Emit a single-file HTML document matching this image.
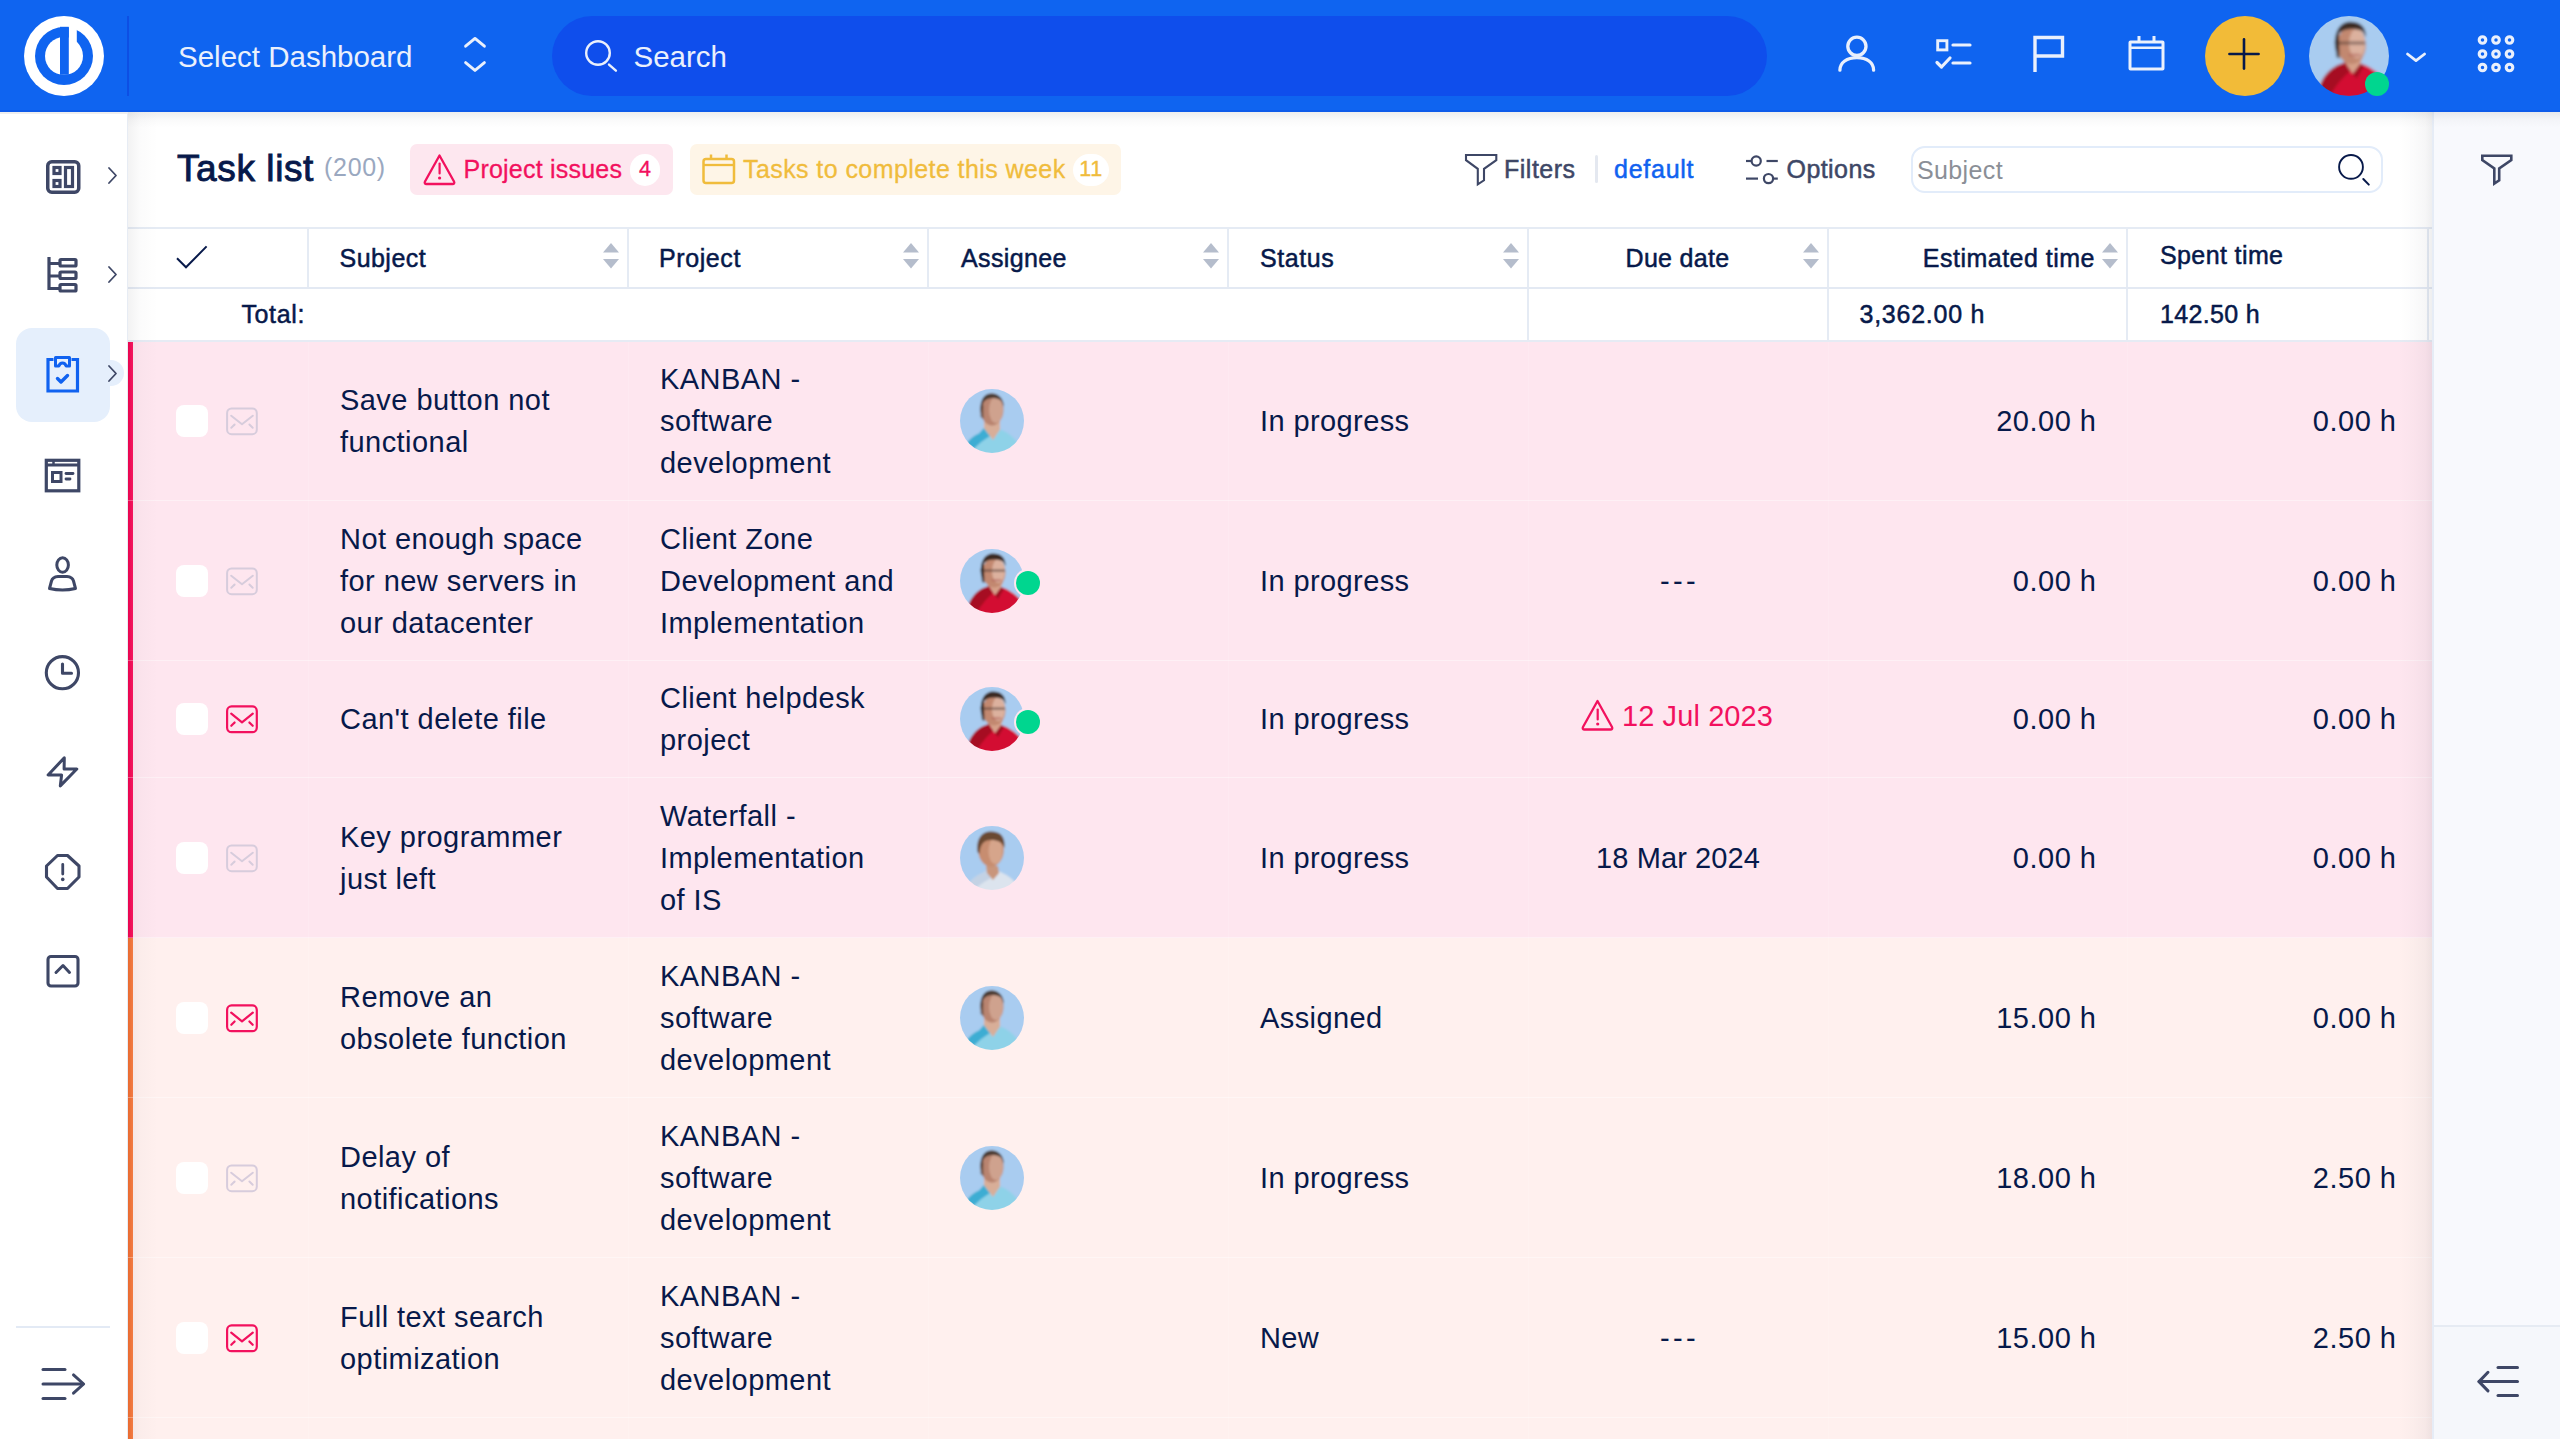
<!DOCTYPE html>
<html><head><meta charset="utf-8"><title>Task list</title>
<style>
*{margin:0;padding:0;box-sizing:border-box}
html,body{width:2560px;height:1439px;overflow:hidden;background:#fff}
body{position:relative;font-family:"Liberation Sans",sans-serif;color:#07194A}
.a{position:absolute;display:block}
.t{position:absolute;white-space:nowrap}
</style></head><body>
<div class="a" style="left:0px;top:112px;width:127px;height:1327px;background:#FFFFFF;"></div>
<div class="a" style="left:127px;top:112px;width:1px;height:1327px;background:#E7ECF4;"></div>
<div class="a" style="left:128px;top:112px;width:2304px;height:1327px;background:#FFFFFF;"></div>
<div class="a" style="left:2432px;top:112px;width:128px;height:1327px;background:#F8F9FD;"></div>
<div class="a" style="left:2432px;top:112px;width:1px;height:1327px;background:#E4E9F2;"></div>
<div class="a" style="left:0px;top:0px;width:2560px;height:112px;background:#0F64F0;"></div>
<div class="a" style="left:0px;top:110px;width:2560px;height:2px;background:#0E5BEA;"></div>
<svg class="a" style="left:24px;top:16px;" width="80" height="80" viewBox="0 0 80 80"><circle cx="40" cy="40" r="40" fill="#fff"/><circle cx="40" cy="40" r="29" fill="#0F64F0"/><circle cx="40" cy="40" r="19" fill="#fff"/><rect x="44.8" y="6" width="8" height="20" fill="#fff"/><rect x="36" y="10.8" width="8.8" height="48" fill="#0F64F0"/></svg>
<div class="a" style="left:127px;top:16px;width:1.5px;height:80px;background:#0D4FE4;"></div>
<div class="t" style="left:178px;top:42.03px;font-size:29.5px;line-height:29.5px;color:#EAF0FC;font-weight:400;">Select Dashboard</div>
<svg class="a" style="left:460px;top:33px;" width="30" height="44" viewBox="0 0 30 44"><polyline points="5.6,13.2 15,5.4 24.4,13.2" fill="none" stroke="#EAF0FC" stroke-width="2.9" stroke-linecap="round" stroke-linejoin="round"/><polyline points="5.6,29.6 15,37.4 24.4,29.6" fill="none" stroke="#EAF0FC" stroke-width="2.9" stroke-linecap="round" stroke-linejoin="round"/></svg>
<div class="a" style="left:552px;top:16px;width:1215px;height:80px;background:#0F4EEC;border-radius:40px;"></div>
<svg class="a" style="left:580px;top:36px;" width="42" height="42" viewBox="0 0 42 42"><circle cx="18" cy="17" r="11.8" fill="none" stroke="#EAF0FC" stroke-width="2.4"/><line x1="29" y1="28.6" x2="35.9" y2="34.7" stroke="#EAF0FC" stroke-width="2.4" stroke-linecap="round"/></svg>
<div class="t" style="left:633.5px;top:41.53px;font-size:29.5px;line-height:29.5px;color:#EAF0FC;font-weight:400;">Search</div>
<svg class="a" style="left:1830px;top:30px;" width="54" height="50" viewBox="0 0 54 50"><circle cx="26.9" cy="16.3" r="9.1" fill="none" stroke="#EAF0FC" stroke-width="3.3"/><path d="M9.9 40.2 C9.9 32.5 17 27.6 26.9 27.6 C36.8 27.6 43.6 32.5 43.6 40.2" fill="none" stroke="#EAF0FC" stroke-width="3.3" stroke-linecap="round"/></svg>
<svg class="a" style="left:1926px;top:30px;" width="54" height="50" viewBox="0 0 54 50"><rect x="11.7" y="10.7" width="9.2" height="9.2" fill="none" stroke="#EAF0FC" stroke-width="2.9"/><line x1="27" y1="15" x2="44" y2="15" stroke="#EAF0FC" stroke-width="3.2" stroke-linecap="round"/><line x1="27" y1="33" x2="44" y2="33" stroke="#EAF0FC" stroke-width="3.2" stroke-linecap="round"/><polyline points="11,32.5 15.5,37 24,28" fill="none" stroke="#EAF0FC" stroke-width="3.2" stroke-linecap="round" stroke-linejoin="round"/></svg>
<svg class="a" style="left:2020px;top:30px;" width="54" height="50" viewBox="0 0 54 50"><polyline points="15,42 15,7.5 42.5,7.5 42.5,26 15,26" fill="none" stroke="#EAF0FC" stroke-width="3.4" stroke-linejoin="miter"/></svg>
<svg class="a" style="left:2120px;top:30px;" width="54" height="50" viewBox="0 0 54 50"><rect x="10" y="12" width="33" height="27" rx="0.5" fill="none" stroke="#EAF0FC" stroke-width="3"/><line x1="10" y1="17.8" x2="43" y2="17.8" stroke="#EAF0FC" stroke-width="2.6"/><line x1="19" y1="6" x2="19" y2="12" stroke="#EAF0FC" stroke-width="3"/><line x1="34" y1="6" x2="34" y2="12" stroke="#EAF0FC" stroke-width="3"/></svg>
<svg class="a" style="left:2205px;top:16px;" width="80" height="80" viewBox="0 0 80 80"><circle cx="40" cy="40" r="40" fill="#F2BB38"/><line x1="24.4" y1="38" x2="53.6" y2="38" stroke="#07194A" stroke-width="2.6" stroke-linecap="round"/><line x1="39" y1="23.4" x2="39" y2="52.6" stroke="#07194A" stroke-width="2.6" stroke-linecap="round"/></svg>
<svg class="a" style="left:2309px;top:16px;" width="80" height="80" viewBox="0 0 64 64"><defs><filter id="blred" x="-20%" y="-20%" width="140%" height="140%"><feGaussianBlur stdDeviation="1.1"/></filter><clipPath id="cpred"><circle cx="32" cy="32" r="32"/></clipPath></defs><g clip-path="url(#cpred)"><g filter="url(#blred)"><rect x="-8" y="-8" width="80" height="80" fill="#A9CCF0"/><path d="M6 66 L9 55 C12 47 18 41 25 38.5 L29 37 L35 46 L41 38 C48 40 55 45 62 52 L66 66 Z" fill="#D30C30"/><path d="M6 66 L9 55 C12 47 18 41 25 38.5 L29 37 L33 44 C26 50 20 57 16 66 Z" fill="#9E0B22" opacity="0.85"/><path d="M35 46 L41 38 L44 40 L38 50 Z" fill="#8A0A1E" opacity="0.7"/><path d="M27 33 L43 33 L41 38 L35 46 L29 37 Z" fill="#D6A088"/><ellipse cx="34" cy="23.5" rx="11.5" ry="15" fill="#C28870"/><ellipse cx="38.5" cy="22" rx="6.5" ry="12" fill="#EDCDBD" opacity="0.6"/><path d="M21 26 C19.5 12 25 4.5 33 4.5 C41 4.5 46 9 45.5 17 L43.5 13 C40 9.5 28 9.5 24 14 L23.5 30 Z" fill="#3A2A24"/><path d="M20.5 20 L24 18 L24.5 34 L22 33 Z" fill="#3A2A24" opacity="0.8"/><rect x="24" y="20.3" width="21" height="2.6" fill="#4A3530" opacity="0.5"/><ellipse cx="36.5" cy="31.2" rx="5.5" ry="1.3" fill="#B0605A" opacity="0.55"/></g></g></svg>
<div class="a" style="left:2365px;top:72px;width:24px;height:24px;background:#00D68F;border-radius:50%;"></div>
<svg class="a" style="left:2400px;top:46px;" width="32" height="22" viewBox="0 0 32 22"><polyline points="7.5,8 16,14.6 24.6,8" fill="none" stroke="#EAF0FC" stroke-width="2.8" stroke-linecap="round" stroke-linejoin="round"/></svg>
<svg class="a" style="left:2470px;top:28px;" width="52" height="52" viewBox="0 0 52 52"><circle cx="12.5" cy="12.0" r="3.3" fill="none" stroke="#EAF0FC" stroke-width="3.1"/><circle cx="26.0" cy="12.0" r="3.3" fill="none" stroke="#EAF0FC" stroke-width="3.1"/><circle cx="39.5" cy="12.0" r="3.3" fill="none" stroke="#EAF0FC" stroke-width="3.1"/><circle cx="12.5" cy="26.0" r="3.3" fill="none" stroke="#EAF0FC" stroke-width="3.1"/><circle cx="26.0" cy="26.0" r="3.3" fill="none" stroke="#EAF0FC" stroke-width="3.1"/><circle cx="39.5" cy="26.0" r="3.3" fill="none" stroke="#EAF0FC" stroke-width="3.1"/><circle cx="12.5" cy="39.5" r="3.3" fill="none" stroke="#EAF0FC" stroke-width="3.1"/><circle cx="26.0" cy="39.5" r="3.3" fill="none" stroke="#EAF0FC" stroke-width="3.1"/><circle cx="39.5" cy="39.5" r="3.3" fill="none" stroke="#EAF0FC" stroke-width="3.1"/></svg>
<svg class="a" style="left:30px;top:144px;" width="64" height="64" viewBox="0 0 64 64"><rect x="17.75" y="17.75" width="31" height="30.5" rx="4" fill="none" stroke="#3E4766" stroke-width="3.5"/><rect x="24" y="23.5" width="6" height="6" fill="none" stroke="#3E4766" stroke-width="3.2"/><rect x="24" y="36.5" width="6" height="6" fill="none" stroke="#3E4766" stroke-width="3.2"/><rect x="35.5" y="23.5" width="7" height="19" fill="none" stroke="#3E4766" stroke-width="3.2"/></svg>
<svg class="a" style="left:100px;top:160px;" width="24" height="32" viewBox="0 0 24 32"><polyline points="9,8 16,15.5 9,23" fill="none" stroke="#3E4766" stroke-width="1.8" stroke-linecap="round" stroke-linejoin="round"/></svg>
<svg class="a" style="left:30px;top:243px;" width="64" height="64" viewBox="0 0 64 64"><polyline points="19,14 19,45.5 29.5,45.5" fill="none" stroke="#3E4766" stroke-width="3.2"/><line x1="19" y1="20.5" x2="29.5" y2="20.5" stroke="#3E4766" stroke-width="3"/><line x1="19" y1="33" x2="29.5" y2="33" stroke="#3E4766" stroke-width="3"/><rect x="30" y="16.5" width="16" height="6.5" rx="1" fill="none" stroke="#3E4766" stroke-width="3.2"/><rect x="30" y="29" width="16" height="6.5" rx="1" fill="none" stroke="#3E4766" stroke-width="3.2"/><rect x="30" y="41.5" width="16" height="6.5" rx="1" fill="none" stroke="#3E4766" stroke-width="3.2"/></svg>
<svg class="a" style="left:100px;top:259px;" width="24" height="32" viewBox="0 0 24 32"><polyline points="9,8 16,15.5 9,23" fill="none" stroke="#3E4766" stroke-width="1.8" stroke-linecap="round" stroke-linejoin="round"/></svg>
<div class="a" style="left:16px;top:328px;width:94px;height:94px;background:#E5EFFC;border-radius:16px;"></div>
<div class="a" style="left:98px;top:360px;width:26px;height:26px;background:#E5EFFC;border-radius:50%;"></div>
<svg class="a" style="left:30px;top:342px;" width="64" height="64" viewBox="0 0 64 64"><polyline points="23.5,17.5 18,17.5 18,49 47.5,49 47.5,17.5 41.5,17.5" fill="none" stroke="#1062F0" stroke-width="3.2"/><path d="M25.5 15.5 L39.5 15.5 L39.5 24 L36 24 C35 20 30 20 29 24 L25.5 24 Z" fill="none" stroke="#1062F0" stroke-width="3" stroke-linejoin="round"/><polyline points="27.5,36.5 31,40 37.5,33.5" fill="none" stroke="#1062F0" stroke-width="3.4" stroke-linecap="round" stroke-linejoin="round"/></svg>
<svg class="a" style="left:100px;top:358px;" width="24" height="32" viewBox="0 0 24 32"><polyline points="9,8 16,15.5 9,23" fill="none" stroke="#3E4766" stroke-width="1.8" stroke-linecap="round" stroke-linejoin="round"/></svg>
<svg class="a" style="left:30px;top:443px;" width="64" height="64" viewBox="0 0 64 64"><rect x="16.3" y="17.3" width="32.5" height="30.5" fill="none" stroke="#3E4766" stroke-width="3.2"/><line x1="16.3" y1="22" x2="48.8" y2="22" stroke="#3E4766" stroke-width="2.8"/><line x1="23.5" y1="17" x2="23.5" y2="22" stroke="#3E4766" stroke-width="2.5"/><rect x="22.5" y="29.5" width="8.5" height="9" fill="none" stroke="#3E4766" stroke-width="3"/><line x1="36" y1="30.5" x2="43" y2="30.5" stroke="#3E4766" stroke-width="2.8" stroke-linecap="round"/><line x1="36" y1="36" x2="40" y2="36" stroke="#3E4766" stroke-width="2.8" stroke-linecap="round"/></svg>
<svg class="a" style="left:30px;top:542px;" width="64" height="64" viewBox="0 0 64 64"><ellipse cx="32.6" cy="23" rx="5.8" ry="7.3" fill="none" stroke="#3E4766" stroke-width="3"/><path d="M19.5 46.5 L21.5 39 C22.5 35.5 24.5 34.8 28 34.5 L37 34.5 C40.5 34.8 42.5 35.5 43.5 39 L45.5 46.5 C37 48.5 28 48.5 19.5 46.5 Z" fill="none" stroke="#3E4766" stroke-width="3" stroke-linejoin="round"/></svg>
<svg class="a" style="left:30px;top:641px;" width="64" height="64" viewBox="0 0 64 64"><circle cx="32.4" cy="31.7" r="16.1" fill="none" stroke="#3E4766" stroke-width="3.1"/><polyline points="32.5,23 32.5,32.3 41.5,32.3" fill="none" stroke="#3E4766" stroke-width="3.1" stroke-linecap="round" stroke-linejoin="round"/></svg>
<svg class="a" style="left:30px;top:740px;" width="64" height="64" viewBox="0 0 64 64"><path d="M34.3 17.8 L18.1 35 L31.6 35 L30.3 45.9 L46.8 29 L34.1 29 Z" fill="none" stroke="#3E4766" stroke-width="3" stroke-linejoin="round"/></svg>
<svg class="a" style="left:30px;top:840px;" width="64" height="64" viewBox="0 0 64 64"><polygon points="27.5,15.5 37.5,15.5 49,26 49,37 37.5,48.5 27.5,48.5 16.5,37 16.5,26" fill="none" stroke="#3E4766" stroke-width="3.1" stroke-linejoin="round"/><line x1="32.75" y1="24.5" x2="32.75" y2="34" stroke="#3E4766" stroke-width="2.8" stroke-linecap="round"/><circle cx="32.75" cy="39.4" r="1.8" fill="#3E4766"/></svg>
<svg class="a" style="left:30px;top:939px;" width="64" height="64" viewBox="0 0 64 64"><rect x="18" y="17.5" width="30" height="29.5" rx="3" fill="none" stroke="#3E4766" stroke-width="3.1"/><polyline points="26,33.5 33,26.5 39.5,33.5" fill="none" stroke="#3E4766" stroke-width="3" stroke-linecap="round" stroke-linejoin="round"/></svg>
<div class="a" style="left:16px;top:1326px;width:94px;height:2px;background:#E3EAF5;"></div>
<svg class="a" style="left:30px;top:1352px;" width="64" height="64" viewBox="0 0 64 64"><line x1="13" y1="17.4" x2="35" y2="17.4" stroke="#3E4766" stroke-width="3" stroke-linecap="round"/><line x1="13" y1="31.9" x2="53" y2="31.9" stroke="#3E4766" stroke-width="3" stroke-linecap="round"/><line x1="13" y1="46.4" x2="35" y2="46.4" stroke="#3E4766" stroke-width="3" stroke-linecap="round"/><polyline points="43.5,22.9 53.6,32 43.5,41.2" fill="none" stroke="#3E4766" stroke-width="3" stroke-linecap="round" stroke-linejoin="round"/></svg>
<svg class="a" style="left:2470px;top:145px;" width="54" height="50" viewBox="0 0 54 50"><path d="M12.3 10.7 L41.3 10.7 L41.3 15 L29.2 23.5 L29.2 35.3 L24.3 38.5 L24.3 23.5 L12.3 15 Z" fill="none" stroke="#3E4766" stroke-width="2.6" stroke-linejoin="miter"/></svg>
<div class="a" style="left:2433px;top:1325px;width:127px;height:2px;background:#E6EBF3;"></div>
<div class="a" style="left:2433px;top:1327px;width:127px;height:112px;background:#F5F7FB;"></div>
<svg class="a" style="left:2470px;top:1355px;" width="54" height="54" viewBox="0 0 54 54"><line x1="28" y1="12.6" x2="47.5" y2="12.6" stroke="#3E4766" stroke-width="3" stroke-linecap="round"/><line x1="9" y1="26.6" x2="47.5" y2="26.6" stroke="#3E4766" stroke-width="3" stroke-linecap="round"/><line x1="28" y1="40.6" x2="47.5" y2="40.6" stroke="#3E4766" stroke-width="3" stroke-linecap="round"/><polyline points="18,17.3 9,26.6 18,35.9" fill="none" stroke="#3E4766" stroke-width="3" stroke-linecap="round" stroke-linejoin="round"/></svg>
<div class="t" style="left:177px;top:149.68px;font-size:37px;line-height:37px;color:#07194A;font-weight:400;letter-spacing:0.6px;-webkit-text-stroke:0.9px #07194A;">Task list</div>
<div class="t" style="left:324px;top:155.34px;font-size:25px;line-height:25px;color:#9AA8C0;font-weight:400;letter-spacing:0.7px;">(200)</div>
<div class="a" style="left:410px;top:144px;width:263px;height:51px;background:#FDE7EF;border-radius:7px;"></div>
<svg class="a" style="left:420px;top:150px;" width="40" height="40" viewBox="0 0 40 40"><path d="M19.5 5.5 L34 31.5 C34.8 33 34 34 32.5 34 L6.5 34 C5 34 4.2 33 5 31.5 Z" fill="none" stroke="#F2115E" stroke-width="2.3" stroke-linejoin="round"/><line x1="19.6" y1="13.5" x2="19.6" y2="23.5" stroke="#F2115E" stroke-width="2.2" stroke-linecap="round"/><circle cx="19.6" cy="28" r="1.6" fill="#F2115E"/></svg>
<div class="t" style="left:463.5px;top:156.84px;font-size:25px;line-height:25px;color:#F2115E;font-weight:400;letter-spacing:0.22px;-webkit-text-stroke:0.3px #F2115E;">Project issues</div>
<div class="a" style="left:630px;top:154px;width:30px;height:32px;background:#FFFFFF;border-radius:16px;"></div>
<div class="t" style="left:45px;width:1200px;text-align:center;top:158.80px;font-size:21.5px;line-height:21.5px;color:#F2115E;font-weight:400;-webkit-text-stroke:0.35px #F2115E;">4</div>
<div class="a" style="left:690px;top:144px;width:431px;height:51px;background:#FEF5E7;border-radius:7px;"></div>
<svg class="a" style="left:700px;top:150px;" width="40" height="40" viewBox="0 0 40 40"><rect x="3.5" y="9" width="30.5" height="24" rx="2.5" fill="none" stroke="#F0BC3C" stroke-width="2.5"/><line x1="3.5" y1="15" x2="34" y2="15" stroke="#F0BC3C" stroke-width="2.3"/><line x1="11" y1="4.5" x2="11" y2="9" stroke="#F0BC3C" stroke-width="2.5"/><line x1="26.5" y1="4.5" x2="26.5" y2="9" stroke="#F0BC3C" stroke-width="2.5"/></svg>
<div class="t" style="left:743px;top:156.84px;font-size:25px;line-height:25px;color:#F0BC3C;font-weight:400;letter-spacing:0.42px;-webkit-text-stroke:0.3px #F0BC3C;">Tasks to complete this week</div>
<div class="a" style="left:1073px;top:154px;width:36px;height:32px;background:#FFFFFF;border-radius:16px;"></div>
<div class="t" style="left:491px;width:1200px;text-align:center;top:158.80px;font-size:21.5px;line-height:21.5px;color:#F0BC3C;font-weight:400;letter-spacing:0.5px;-webkit-text-stroke:0.4px #F0BC3C;">11</div>
<svg class="a" style="left:1460px;top:148px;" width="42" height="42" viewBox="0 0 42 42"><path d="M6 7 L36.3 7 L36.3 12.2 L24 20.8 L24 32.3 L17.8 36.3 L17.8 20.8 L6 12.2 Z" fill="none" stroke="#3E4766" stroke-width="2.1" stroke-linejoin="miter"/></svg>
<div class="t" style="left:1504px;top:156.84px;font-size:25px;line-height:25px;color:#3E4766;font-weight:400;letter-spacing:0.5px;-webkit-text-stroke:0.5px #3E4766;">Filters</div>
<div class="a" style="left:1595px;top:155px;width:3px;height:28px;background:#E4E8F0;border-radius:2px;"></div>
<div class="t" style="left:1614px;top:156.84px;font-size:25px;line-height:25px;color:#1062F0;font-weight:400;letter-spacing:0.75px;-webkit-text-stroke:0.5px #1062F0;">default</div>
<svg class="a" style="left:1740px;top:150px;" width="42" height="42" viewBox="0 0 42 42"><circle cx="16.2" cy="11" r="4.6" fill="none" stroke="#3E4766" stroke-width="2.2"/><line x1="6" y1="11" x2="11.6" y2="11" stroke="#3E4766" stroke-width="2.2"/><line x1="26.5" y1="11" x2="37.8" y2="11" stroke="#3E4766" stroke-width="2.2"/><circle cx="28.5" cy="28.6" r="4.6" fill="none" stroke="#3E4766" stroke-width="2.2"/><line x1="6" y1="28.6" x2="18" y2="28.6" stroke="#3E4766" stroke-width="2.2"/><line x1="33.1" y1="28.6" x2="37.8" y2="28.6" stroke="#3E4766" stroke-width="2.2"/></svg>
<div class="t" style="left:1786.5px;top:156.84px;font-size:25px;line-height:25px;color:#3E4766;font-weight:400;letter-spacing:0.43px;-webkit-text-stroke:0.5px #3E4766;">Options</div>
<div class="a" style="left:1911px;top:146px;width:472px;height:47px;background:#FFFFFF;border:2px solid #E2ECFA;border-radius:14px;box-sizing:border-box;"></div>
<div class="t" style="left:1917px;top:157.84px;font-size:25px;line-height:25px;color:#8B8F97;font-weight:400;letter-spacing:0.37px;">Subject</div>
<svg class="a" style="left:2330px;top:148px;" width="46" height="46" viewBox="0 0 46 46"><circle cx="21" cy="18.9" r="11.9" fill="none" stroke="#07194A" stroke-width="1.9"/><line x1="33.3" y1="31" x2="38.8" y2="36.6" stroke="#07194A" stroke-width="2" stroke-linecap="round"/></svg>
<div class="a" style="left:128px;top:227px;width:2304px;height:2px;background:#E5EBF4;"></div>
<div class="a" style="left:128px;top:287px;width:2304px;height:2px;background:#E3E9F3;"></div>
<div class="a" style="left:307px;top:229px;width:2px;height:58px;background:#E5EBF4;"></div>
<div class="a" style="left:627px;top:229px;width:2px;height:58px;background:#E5EBF4;"></div>
<div class="a" style="left:927px;top:229px;width:2px;height:58px;background:#E5EBF4;"></div>
<div class="a" style="left:1227px;top:229px;width:2px;height:58px;background:#E5EBF4;"></div>
<div class="a" style="left:1527px;top:229px;width:2px;height:58px;background:#E5EBF4;"></div>
<div class="a" style="left:1827px;top:229px;width:2px;height:58px;background:#E5EBF4;"></div>
<div class="a" style="left:2126px;top:229px;width:2px;height:58px;background:#E5EBF4;"></div>
<div class="a" style="left:2427px;top:229px;width:2px;height:58px;background:#E5EBF4;"></div>
<svg class="a" style="left:170px;top:240px;" width="44" height="36" viewBox="0 0 44 36"><polyline points="7,18.3 16,27.3 36.6,6.4" fill="none" stroke="#07194A" stroke-width="2" stroke-linecap="butt"/></svg>
<div class="t" style="left:339.5px;top:245.84px;font-size:25px;line-height:25px;color:#07194A;font-weight:400;letter-spacing:0.46px;-webkit-text-stroke:0.5px #07194A;">Subject</div>
<div class="t" style="left:659px;top:245.84px;font-size:25px;line-height:25px;color:#07194A;font-weight:400;letter-spacing:0.6px;-webkit-text-stroke:0.5px #07194A;">Project</div>
<div class="t" style="left:961px;top:245.84px;font-size:25px;line-height:25px;color:#07194A;font-weight:400;letter-spacing:0.37px;-webkit-text-stroke:0.5px #07194A;">Assignee</div>
<div class="t" style="left:1260px;top:245.84px;font-size:25px;line-height:25px;color:#07194A;font-weight:400;letter-spacing:0.56px;-webkit-text-stroke:0.5px #07194A;">Status</div>
<div class="t" style="left:1077.5px;width:1200px;text-align:center;top:245.84px;font-size:25px;line-height:25px;color:#07194A;font-weight:400;letter-spacing:0.31px;-webkit-text-stroke:0.5px #07194A;">Due date</div>
<div class="t" style="right:465px;top:245.84px;font-size:25px;line-height:25px;color:#07194A;font-weight:400;letter-spacing:0.49px;-webkit-text-stroke:0.5px #07194A;">Estimated time</div>
<div class="t" style="left:2160px;top:242.84px;font-size:25px;line-height:25px;color:#07194A;font-weight:400;letter-spacing:0.39px;-webkit-text-stroke:0.5px #07194A;">Spent time</div>
<svg class="a" style="left:602px;top:240px;" width="18" height="32" viewBox="0 0 18 32"><polygon points="1,12.5 9,3 17,12.5" fill="#B5BDCC"/><polygon points="1,19 9,28.5 17,19" fill="#B5BDCC"/></svg>
<svg class="a" style="left:902px;top:240px;" width="18" height="32" viewBox="0 0 18 32"><polygon points="1,12.5 9,3 17,12.5" fill="#B5BDCC"/><polygon points="1,19 9,28.5 17,19" fill="#B5BDCC"/></svg>
<svg class="a" style="left:1202px;top:240px;" width="18" height="32" viewBox="0 0 18 32"><polygon points="1,12.5 9,3 17,12.5" fill="#B5BDCC"/><polygon points="1,19 9,28.5 17,19" fill="#B5BDCC"/></svg>
<svg class="a" style="left:1502px;top:240px;" width="18" height="32" viewBox="0 0 18 32"><polygon points="1,12.5 9,3 17,12.5" fill="#B5BDCC"/><polygon points="1,19 9,28.5 17,19" fill="#B5BDCC"/></svg>
<svg class="a" style="left:1802px;top:240px;" width="18" height="32" viewBox="0 0 18 32"><polygon points="1,12.5 9,3 17,12.5" fill="#B5BDCC"/><polygon points="1,19 9,28.5 17,19" fill="#B5BDCC"/></svg>
<svg class="a" style="left:2101px;top:240px;" width="18" height="32" viewBox="0 0 18 32"><polygon points="1,12.5 9,3 17,12.5" fill="#B5BDCC"/><polygon points="1,19 9,28.5 17,19" fill="#B5BDCC"/></svg>
<div class="a" style="left:128px;top:340px;width:2304px;height:2px;background:#E6EBF4;"></div>
<div class="a" style="left:1527px;top:289px;width:2px;height:51px;background:#E5EBF4;"></div>
<div class="a" style="left:1827px;top:289px;width:2px;height:51px;background:#E5EBF4;"></div>
<div class="a" style="left:2126px;top:289px;width:2px;height:51px;background:#E5EBF4;"></div>
<div class="a" style="left:2427px;top:289px;width:2px;height:51px;background:#E5EBF4;"></div>
<div class="t" style="right:2255px;top:302.34px;font-size:25px;line-height:25px;color:#07194A;font-weight:400;letter-spacing:0.64px;-webkit-text-stroke:0.5px #07194A;">Total:</div>
<div class="t" style="left:1859.5px;top:302.34px;font-size:25px;line-height:25px;color:#07194A;font-weight:400;letter-spacing:0.76px;-webkit-text-stroke:0.5px #07194A;">3,362.00 h</div>
<div class="t" style="left:2160px;top:302.34px;font-size:25px;line-height:25px;color:#07194A;font-weight:400;letter-spacing:0.34px;-webkit-text-stroke:0.5px #07194A;">142.50 h</div>
<div class="a" style="left:128px;top:342px;width:2304px;height:159px;background:#FEE6EF;"></div>
<div class="a" style="left:128px;top:500px;width:2304px;height:1px;background:rgba(255,255,255,0.4);"></div>
<div class="a" style="left:308px;top:342px;width:1px;height:159px;background:rgba(255,255,255,0.15);"></div>
<div class="a" style="left:628px;top:342px;width:1px;height:159px;background:rgba(255,255,255,0.15);"></div>
<div class="a" style="left:928px;top:342px;width:1px;height:159px;background:rgba(255,255,255,0.15);"></div>
<div class="a" style="left:1228px;top:342px;width:1px;height:159px;background:rgba(255,255,255,0.15);"></div>
<div class="a" style="left:1528px;top:342px;width:1px;height:159px;background:rgba(255,255,255,0.15);"></div>
<div class="a" style="left:1828px;top:342px;width:1px;height:159px;background:rgba(255,255,255,0.15);"></div>
<div class="a" style="left:2127px;top:342px;width:1px;height:159px;background:rgba(255,255,255,0.15);"></div>
<div class="a" style="left:176px;top:405.0px;width:32px;height:32px;background:#FFFFFF;border-radius:8px;"></div>
<svg class="a" style="left:224px;top:405.0px;" width="36" height="32" viewBox="0 0 36 32"><rect x="3.1" y="3.4" width="29.7" height="25.8" rx="4.5" fill="none" stroke="#D7CCDC" stroke-width="2.0"/><polyline points="7.2,10.7 18,19.3 28.8,10.7" fill="none" stroke="#D7CCDC" stroke-width="2.0" stroke-linecap="round" stroke-linejoin="round"/><line x1="7.3" y1="22.8" x2="10.6" y2="19.5" stroke="#D7CCDC" stroke-width="2.0" stroke-linecap="round"/><line x1="25.4" y1="19.5" x2="28.7" y2="22.8" stroke="#D7CCDC" stroke-width="2.0" stroke-linecap="round"/></svg>
<div class="t" style="left:340px;top:386.45px;font-size:29px;line-height:29px;color:#07194A;font-weight:400;letter-spacing:0.45px;">Save button not</div>
<div class="t" style="left:340px;top:428.45px;font-size:29px;line-height:29px;color:#07194A;font-weight:400;letter-spacing:0.45px;">functional</div>
<div class="t" style="left:660px;top:365.45px;font-size:29px;line-height:29px;color:#07194A;font-weight:400;letter-spacing:0.45px;">KANBAN -</div>
<div class="t" style="left:660px;top:407.45px;font-size:29px;line-height:29px;color:#07194A;font-weight:400;letter-spacing:0.45px;">software</div>
<div class="t" style="left:660px;top:449.45px;font-size:29px;line-height:29px;color:#07194A;font-weight:400;letter-spacing:0.45px;">development</div>
<svg class="a" style="left:960px;top:389.0px;" width="64" height="64" viewBox="0 0 64 64"><defs><filter id="blblue342" x="-20%" y="-20%" width="140%" height="140%"><feGaussianBlur stdDeviation="1.1"/></filter><clipPath id="cpblue342"><circle cx="32" cy="32" r="32"/></clipPath></defs><g clip-path="url(#cpblue342)"><g filter="url(#blblue342)"><rect x="-8" y="-8" width="80" height="80" fill="#A9CCF0"/><path d="M2 66 C4 56 10 48 19 44.5 L24 39 L33 51 L40 40.5 C48 43 55 49 60 57 L62 66 Z" fill="#8ED2E8"/><path d="M2 66 C4 56 10 48 19 44.5 L24 39 L30 47 C22 52 14 58 10 66 Z" fill="#3EADD3"/><path d="M24 32 L40 32 L40 40.5 L33 51 L24 39 Z" fill="#D8AE98"/><ellipse cx="32" cy="20.5" rx="11.5" ry="16" fill="#B98470"/><ellipse cx="36" cy="21" rx="7" ry="13" fill="#E2BCA8" opacity="0.55"/><path d="M20.5 24 C19.5 10 24.5 4.5 31.5 4.5 C38.5 4.5 43.5 9 44 18 L41.5 12 C37.5 8 27.5 8 23.5 13 Z" fill="#4A3A33"/><path d="M20.5 18 L23.5 16 L23.5 30 L20.5 28 Z" fill="#4A3A33" opacity="0.6"/></g></g></svg>
<div class="t" style="left:1260px;top:407.45px;font-size:29px;line-height:29px;color:#07194A;font-weight:400;letter-spacing:0.4px;">In progress</div>
<div class="t" style="right:463.5px;top:407.45px;font-size:29px;line-height:29px;color:#07194A;font-weight:400;letter-spacing:0.5px;">20.00 h</div>
<div class="t" style="right:163.5px;top:407.45px;font-size:29px;line-height:29px;color:#07194A;font-weight:400;letter-spacing:0.5px;">0.00 h</div>
<div class="a" style="left:128px;top:501px;width:2304px;height:160px;background:#FEE6EF;"></div>
<div class="a" style="left:128px;top:660px;width:2304px;height:1px;background:rgba(255,255,255,0.4);"></div>
<div class="a" style="left:308px;top:501px;width:1px;height:160px;background:rgba(255,255,255,0.15);"></div>
<div class="a" style="left:628px;top:501px;width:1px;height:160px;background:rgba(255,255,255,0.15);"></div>
<div class="a" style="left:928px;top:501px;width:1px;height:160px;background:rgba(255,255,255,0.15);"></div>
<div class="a" style="left:1228px;top:501px;width:1px;height:160px;background:rgba(255,255,255,0.15);"></div>
<div class="a" style="left:1528px;top:501px;width:1px;height:160px;background:rgba(255,255,255,0.15);"></div>
<div class="a" style="left:1828px;top:501px;width:1px;height:160px;background:rgba(255,255,255,0.15);"></div>
<div class="a" style="left:2127px;top:501px;width:1px;height:160px;background:rgba(255,255,255,0.15);"></div>
<div class="a" style="left:176px;top:564.5px;width:32px;height:32px;background:#FFFFFF;border-radius:8px;"></div>
<svg class="a" style="left:224px;top:564.5px;" width="36" height="32" viewBox="0 0 36 32"><rect x="3.1" y="3.4" width="29.7" height="25.8" rx="4.5" fill="none" stroke="#D7CCDC" stroke-width="2.0"/><polyline points="7.2,10.7 18,19.3 28.8,10.7" fill="none" stroke="#D7CCDC" stroke-width="2.0" stroke-linecap="round" stroke-linejoin="round"/><line x1="7.3" y1="22.8" x2="10.6" y2="19.5" stroke="#D7CCDC" stroke-width="2.0" stroke-linecap="round"/><line x1="25.4" y1="19.5" x2="28.7" y2="22.8" stroke="#D7CCDC" stroke-width="2.0" stroke-linecap="round"/></svg>
<div class="t" style="left:340px;top:524.95px;font-size:29px;line-height:29px;color:#07194A;font-weight:400;letter-spacing:0.45px;">Not enough space</div>
<div class="t" style="left:340px;top:566.95px;font-size:29px;line-height:29px;color:#07194A;font-weight:400;letter-spacing:0.45px;">for new servers in</div>
<div class="t" style="left:340px;top:608.95px;font-size:29px;line-height:29px;color:#07194A;font-weight:400;letter-spacing:0.45px;">our datacenter</div>
<div class="t" style="left:660px;top:524.95px;font-size:29px;line-height:29px;color:#07194A;font-weight:400;letter-spacing:0.45px;">Client Zone</div>
<div class="t" style="left:660px;top:566.95px;font-size:29px;line-height:29px;color:#07194A;font-weight:400;letter-spacing:0.45px;">Development and</div>
<div class="t" style="left:660px;top:608.95px;font-size:29px;line-height:29px;color:#07194A;font-weight:400;letter-spacing:0.45px;">Implementation</div>
<svg class="a" style="left:960px;top:548.5px;" width="64" height="64" viewBox="0 0 64 64"><defs><filter id="blred501" x="-20%" y="-20%" width="140%" height="140%"><feGaussianBlur stdDeviation="1.1"/></filter><clipPath id="cpred501"><circle cx="32" cy="32" r="32"/></clipPath></defs><g clip-path="url(#cpred501)"><g filter="url(#blred501)"><rect x="-8" y="-8" width="80" height="80" fill="#A9CCF0"/><path d="M6 66 L9 55 C12 47 18 41 25 38.5 L29 37 L35 46 L41 38 C48 40 55 45 62 52 L66 66 Z" fill="#D30C30"/><path d="M6 66 L9 55 C12 47 18 41 25 38.5 L29 37 L33 44 C26 50 20 57 16 66 Z" fill="#9E0B22" opacity="0.85"/><path d="M35 46 L41 38 L44 40 L38 50 Z" fill="#8A0A1E" opacity="0.7"/><path d="M27 33 L43 33 L41 38 L35 46 L29 37 Z" fill="#D6A088"/><ellipse cx="34" cy="23.5" rx="11.5" ry="15" fill="#C28870"/><ellipse cx="38.5" cy="22" rx="6.5" ry="12" fill="#EDCDBD" opacity="0.6"/><path d="M21 26 C19.5 12 25 4.5 33 4.5 C41 4.5 46 9 45.5 17 L43.5 13 C40 9.5 28 9.5 24 14 L23.5 30 Z" fill="#3A2A24"/><path d="M20.5 20 L24 18 L24.5 34 L22 33 Z" fill="#3A2A24" opacity="0.8"/><rect x="24" y="20.3" width="21" height="2.6" fill="#4A3530" opacity="0.5"/><ellipse cx="36.5" cy="31.2" rx="5.5" ry="1.3" fill="#B0605A" opacity="0.55"/></g></g></svg>
<div class="a" style="left:1014px;top:569.0px;width:28px;height:28px;background:#FEE6EF;border-radius:50%;"></div>
<div class="a" style="left:1016px;top:571.0px;width:24px;height:24px;background:#00D68F;border-radius:50%;"></div>
<div class="t" style="left:1260px;top:566.95px;font-size:29px;line-height:29px;color:#07194A;font-weight:400;letter-spacing:0.4px;">In progress</div>
<div class="t" style="left:1079.5px;width:1200px;text-align:center;top:566.95px;font-size:29px;line-height:29px;color:#07194A;font-weight:400;letter-spacing:3.4px;">---</div>
<div class="t" style="right:463.5px;top:566.95px;font-size:29px;line-height:29px;color:#07194A;font-weight:400;letter-spacing:0.5px;">0.00 h</div>
<div class="t" style="right:163.5px;top:566.95px;font-size:29px;line-height:29px;color:#07194A;font-weight:400;letter-spacing:0.5px;">0.00 h</div>
<div class="a" style="left:128px;top:661px;width:2304px;height:117px;background:#FEE6EF;"></div>
<div class="a" style="left:128px;top:777px;width:2304px;height:1px;background:rgba(255,255,255,0.4);"></div>
<div class="a" style="left:308px;top:661px;width:1px;height:117px;background:rgba(255,255,255,0.15);"></div>
<div class="a" style="left:628px;top:661px;width:1px;height:117px;background:rgba(255,255,255,0.15);"></div>
<div class="a" style="left:928px;top:661px;width:1px;height:117px;background:rgba(255,255,255,0.15);"></div>
<div class="a" style="left:1228px;top:661px;width:1px;height:117px;background:rgba(255,255,255,0.15);"></div>
<div class="a" style="left:1528px;top:661px;width:1px;height:117px;background:rgba(255,255,255,0.15);"></div>
<div class="a" style="left:1828px;top:661px;width:1px;height:117px;background:rgba(255,255,255,0.15);"></div>
<div class="a" style="left:2127px;top:661px;width:1px;height:117px;background:rgba(255,255,255,0.15);"></div>
<div class="a" style="left:176px;top:703.0px;width:32px;height:32px;background:#FFFFFF;border-radius:8px;"></div>
<svg class="a" style="left:224px;top:703.0px;" width="36" height="32" viewBox="0 0 36 32"><rect x="3.1" y="3.4" width="29.7" height="25.8" rx="4.5" fill="none" stroke="#F2115E" stroke-width="2.2"/><polyline points="7.2,10.7 18,19.3 28.8,10.7" fill="none" stroke="#F2115E" stroke-width="2.2" stroke-linecap="round" stroke-linejoin="round"/><line x1="7.3" y1="22.8" x2="10.6" y2="19.5" stroke="#F2115E" stroke-width="2.2" stroke-linecap="round"/><line x1="25.4" y1="19.5" x2="28.7" y2="22.8" stroke="#F2115E" stroke-width="2.2" stroke-linecap="round"/></svg>
<div class="t" style="left:340px;top:705.45px;font-size:29px;line-height:29px;color:#07194A;font-weight:400;letter-spacing:0.45px;">Can't delete file</div>
<div class="t" style="left:660px;top:684.45px;font-size:29px;line-height:29px;color:#07194A;font-weight:400;letter-spacing:0.45px;">Client helpdesk</div>
<div class="t" style="left:660px;top:726.45px;font-size:29px;line-height:29px;color:#07194A;font-weight:400;letter-spacing:0.45px;">project</div>
<svg class="a" style="left:960px;top:687.0px;" width="64" height="64" viewBox="0 0 64 64"><defs><filter id="blred661" x="-20%" y="-20%" width="140%" height="140%"><feGaussianBlur stdDeviation="1.1"/></filter><clipPath id="cpred661"><circle cx="32" cy="32" r="32"/></clipPath></defs><g clip-path="url(#cpred661)"><g filter="url(#blred661)"><rect x="-8" y="-8" width="80" height="80" fill="#A9CCF0"/><path d="M6 66 L9 55 C12 47 18 41 25 38.5 L29 37 L35 46 L41 38 C48 40 55 45 62 52 L66 66 Z" fill="#D30C30"/><path d="M6 66 L9 55 C12 47 18 41 25 38.5 L29 37 L33 44 C26 50 20 57 16 66 Z" fill="#9E0B22" opacity="0.85"/><path d="M35 46 L41 38 L44 40 L38 50 Z" fill="#8A0A1E" opacity="0.7"/><path d="M27 33 L43 33 L41 38 L35 46 L29 37 Z" fill="#D6A088"/><ellipse cx="34" cy="23.5" rx="11.5" ry="15" fill="#C28870"/><ellipse cx="38.5" cy="22" rx="6.5" ry="12" fill="#EDCDBD" opacity="0.6"/><path d="M21 26 C19.5 12 25 4.5 33 4.5 C41 4.5 46 9 45.5 17 L43.5 13 C40 9.5 28 9.5 24 14 L23.5 30 Z" fill="#3A2A24"/><path d="M20.5 20 L24 18 L24.5 34 L22 33 Z" fill="#3A2A24" opacity="0.8"/><rect x="24" y="20.3" width="21" height="2.6" fill="#4A3530" opacity="0.5"/><ellipse cx="36.5" cy="31.2" rx="5.5" ry="1.3" fill="#B0605A" opacity="0.55"/></g></g></svg>
<div class="a" style="left:1014px;top:707.5px;width:28px;height:28px;background:#FEE6EF;border-radius:50%;"></div>
<div class="a" style="left:1016px;top:709.5px;width:24px;height:24px;background:#00D68F;border-radius:50%;"></div>
<div class="t" style="left:1260px;top:705.45px;font-size:29px;line-height:29px;color:#07194A;font-weight:400;letter-spacing:0.4px;">In progress</div>
<svg class="a" style="left:1578px;top:697.0px;" width="40" height="40" viewBox="0 0 40 40"><path d="M19.5 4 L34 30 C34.8 31.5 34 32.5 32.5 32.5 L6.5 32.5 C5 32.5 4.2 31.5 5 30 Z" fill="none" stroke="#F2115E" stroke-width="2.3" stroke-linejoin="round"/><line x1="19.7" y1="12.5" x2="19.7" y2="22.5" stroke="#F2115E" stroke-width="2.2" stroke-linecap="round"/><circle cx="19.7" cy="27" r="1.6" fill="#F2115E"/></svg>
<div class="t" style="left:1622px;top:702.15px;font-size:29px;line-height:29px;color:#F2115E;font-weight:400;letter-spacing:0.1px;">12 Jul 2023</div>
<div class="t" style="right:463.5px;top:705.45px;font-size:29px;line-height:29px;color:#07194A;font-weight:400;letter-spacing:0.5px;">0.00 h</div>
<div class="t" style="right:163.5px;top:705.45px;font-size:29px;line-height:29px;color:#07194A;font-weight:400;letter-spacing:0.5px;">0.00 h</div>
<div class="a" style="left:128px;top:778px;width:2304px;height:160px;background:#FEE6EF;"></div>
<div class="a" style="left:128px;top:937px;width:2304px;height:1px;background:rgba(255,255,255,0.4);"></div>
<div class="a" style="left:308px;top:778px;width:1px;height:160px;background:rgba(255,255,255,0.15);"></div>
<div class="a" style="left:628px;top:778px;width:1px;height:160px;background:rgba(255,255,255,0.15);"></div>
<div class="a" style="left:928px;top:778px;width:1px;height:160px;background:rgba(255,255,255,0.15);"></div>
<div class="a" style="left:1228px;top:778px;width:1px;height:160px;background:rgba(255,255,255,0.15);"></div>
<div class="a" style="left:1528px;top:778px;width:1px;height:160px;background:rgba(255,255,255,0.15);"></div>
<div class="a" style="left:1828px;top:778px;width:1px;height:160px;background:rgba(255,255,255,0.15);"></div>
<div class="a" style="left:2127px;top:778px;width:1px;height:160px;background:rgba(255,255,255,0.15);"></div>
<div class="a" style="left:176px;top:841.5px;width:32px;height:32px;background:#FFFFFF;border-radius:8px;"></div>
<svg class="a" style="left:224px;top:841.5px;" width="36" height="32" viewBox="0 0 36 32"><rect x="3.1" y="3.4" width="29.7" height="25.8" rx="4.5" fill="none" stroke="#D7CCDC" stroke-width="2.0"/><polyline points="7.2,10.7 18,19.3 28.8,10.7" fill="none" stroke="#D7CCDC" stroke-width="2.0" stroke-linecap="round" stroke-linejoin="round"/><line x1="7.3" y1="22.8" x2="10.6" y2="19.5" stroke="#D7CCDC" stroke-width="2.0" stroke-linecap="round"/><line x1="25.4" y1="19.5" x2="28.7" y2="22.8" stroke="#D7CCDC" stroke-width="2.0" stroke-linecap="round"/></svg>
<div class="t" style="left:340px;top:822.95px;font-size:29px;line-height:29px;color:#07194A;font-weight:400;letter-spacing:0.45px;">Key programmer</div>
<div class="t" style="left:340px;top:864.95px;font-size:29px;line-height:29px;color:#07194A;font-weight:400;letter-spacing:0.45px;">just left</div>
<div class="t" style="left:660px;top:801.95px;font-size:29px;line-height:29px;color:#07194A;font-weight:400;letter-spacing:0.45px;">Waterfall -</div>
<div class="t" style="left:660px;top:843.95px;font-size:29px;line-height:29px;color:#07194A;font-weight:400;letter-spacing:0.45px;">Implementation</div>
<div class="t" style="left:660px;top:885.95px;font-size:29px;line-height:29px;color:#07194A;font-weight:400;letter-spacing:0.45px;">of IS</div>
<svg class="a" style="left:960px;top:825.5px;" width="64" height="64" viewBox="0 0 64 64"><defs><filter id="blwhite778" x="-20%" y="-20%" width="140%" height="140%"><feGaussianBlur stdDeviation="1.1"/></filter><clipPath id="cpwhite778"><circle cx="32" cy="32" r="32"/></clipPath></defs><g clip-path="url(#cpwhite778)"><g filter="url(#blwhite778)"><rect x="-8" y="-8" width="80" height="80" fill="#A9CCF0"/><path d="M4 66 C8 56 15 50 23 47 L28 43 L38 45 C46 48 54 53 60 62 L60 66 Z" fill="#DCE4EE"/><path d="M4 66 C8 56 15 50 23 47 L28 43 L31 52 C24 56 17 60 13 66 Z" fill="#C3D2E4"/><path d="M26 40 L38 40 L39 47 L33 54 L27 47 Z" fill="#C9967C"/><ellipse cx="31" cy="24" rx="12.8" ry="16.5" fill="#C78D70"/><ellipse cx="35.5" cy="25" rx="7" ry="13" fill="#E6BEA6" opacity="0.5"/><path d="M17.5 26 C16 11 23 5.5 31 5.5 C40 5.5 45.5 10 44.5 22 C42 16 38 14 31 14 C24 14 20 18 19.5 28 Z" fill="#6A4830"/></g></g></svg>
<div class="t" style="left:1260px;top:843.95px;font-size:29px;line-height:29px;color:#07194A;font-weight:400;letter-spacing:0.4px;">In progress</div>
<div class="t" style="left:1078px;width:1200px;text-align:center;top:843.95px;font-size:29px;line-height:29px;color:#07194A;font-weight:400;letter-spacing:0.1px;">18 Mar 2024</div>
<div class="t" style="right:463.5px;top:843.95px;font-size:29px;line-height:29px;color:#07194A;font-weight:400;letter-spacing:0.5px;">0.00 h</div>
<div class="t" style="right:163.5px;top:843.95px;font-size:29px;line-height:29px;color:#07194A;font-weight:400;letter-spacing:0.5px;">0.00 h</div>
<div class="a" style="left:128px;top:938px;width:2304px;height:160px;background:#FFF0EE;"></div>
<div class="a" style="left:128px;top:1097px;width:2304px;height:1px;background:rgba(255,255,255,0.4);"></div>
<div class="a" style="left:308px;top:938px;width:1px;height:160px;background:rgba(255,255,255,0.15);"></div>
<div class="a" style="left:628px;top:938px;width:1px;height:160px;background:rgba(255,255,255,0.15);"></div>
<div class="a" style="left:928px;top:938px;width:1px;height:160px;background:rgba(255,255,255,0.15);"></div>
<div class="a" style="left:1228px;top:938px;width:1px;height:160px;background:rgba(255,255,255,0.15);"></div>
<div class="a" style="left:1528px;top:938px;width:1px;height:160px;background:rgba(255,255,255,0.15);"></div>
<div class="a" style="left:1828px;top:938px;width:1px;height:160px;background:rgba(255,255,255,0.15);"></div>
<div class="a" style="left:2127px;top:938px;width:1px;height:160px;background:rgba(255,255,255,0.15);"></div>
<div class="a" style="left:176px;top:1001.5px;width:32px;height:32px;background:#FFFFFF;border-radius:8px;"></div>
<svg class="a" style="left:224px;top:1001.5px;" width="36" height="32" viewBox="0 0 36 32"><rect x="3.1" y="3.4" width="29.7" height="25.8" rx="4.5" fill="none" stroke="#F2115E" stroke-width="2.2"/><polyline points="7.2,10.7 18,19.3 28.8,10.7" fill="none" stroke="#F2115E" stroke-width="2.2" stroke-linecap="round" stroke-linejoin="round"/><line x1="7.3" y1="22.8" x2="10.6" y2="19.5" stroke="#F2115E" stroke-width="2.2" stroke-linecap="round"/><line x1="25.4" y1="19.5" x2="28.7" y2="22.8" stroke="#F2115E" stroke-width="2.2" stroke-linecap="round"/></svg>
<div class="t" style="left:340px;top:982.95px;font-size:29px;line-height:29px;color:#07194A;font-weight:400;letter-spacing:0.45px;">Remove an</div>
<div class="t" style="left:340px;top:1024.95px;font-size:29px;line-height:29px;color:#07194A;font-weight:400;letter-spacing:0.45px;">obsolete function</div>
<div class="t" style="left:660px;top:961.95px;font-size:29px;line-height:29px;color:#07194A;font-weight:400;letter-spacing:0.45px;">KANBAN -</div>
<div class="t" style="left:660px;top:1003.95px;font-size:29px;line-height:29px;color:#07194A;font-weight:400;letter-spacing:0.45px;">software</div>
<div class="t" style="left:660px;top:1045.95px;font-size:29px;line-height:29px;color:#07194A;font-weight:400;letter-spacing:0.45px;">development</div>
<svg class="a" style="left:960px;top:985.5px;" width="64" height="64" viewBox="0 0 64 64"><defs><filter id="blblue938" x="-20%" y="-20%" width="140%" height="140%"><feGaussianBlur stdDeviation="1.1"/></filter><clipPath id="cpblue938"><circle cx="32" cy="32" r="32"/></clipPath></defs><g clip-path="url(#cpblue938)"><g filter="url(#blblue938)"><rect x="-8" y="-8" width="80" height="80" fill="#A9CCF0"/><path d="M2 66 C4 56 10 48 19 44.5 L24 39 L33 51 L40 40.5 C48 43 55 49 60 57 L62 66 Z" fill="#8ED2E8"/><path d="M2 66 C4 56 10 48 19 44.5 L24 39 L30 47 C22 52 14 58 10 66 Z" fill="#3EADD3"/><path d="M24 32 L40 32 L40 40.5 L33 51 L24 39 Z" fill="#D8AE98"/><ellipse cx="32" cy="20.5" rx="11.5" ry="16" fill="#B98470"/><ellipse cx="36" cy="21" rx="7" ry="13" fill="#E2BCA8" opacity="0.55"/><path d="M20.5 24 C19.5 10 24.5 4.5 31.5 4.5 C38.5 4.5 43.5 9 44 18 L41.5 12 C37.5 8 27.5 8 23.5 13 Z" fill="#4A3A33"/><path d="M20.5 18 L23.5 16 L23.5 30 L20.5 28 Z" fill="#4A3A33" opacity="0.6"/></g></g></svg>
<div class="t" style="left:1260px;top:1003.95px;font-size:29px;line-height:29px;color:#07194A;font-weight:400;letter-spacing:0.4px;">Assigned</div>
<div class="t" style="right:463.5px;top:1003.95px;font-size:29px;line-height:29px;color:#07194A;font-weight:400;letter-spacing:0.5px;">15.00 h</div>
<div class="t" style="right:163.5px;top:1003.95px;font-size:29px;line-height:29px;color:#07194A;font-weight:400;letter-spacing:0.5px;">0.00 h</div>
<div class="a" style="left:128px;top:1098px;width:2304px;height:160px;background:#FFF0EE;"></div>
<div class="a" style="left:128px;top:1257px;width:2304px;height:1px;background:rgba(255,255,255,0.4);"></div>
<div class="a" style="left:308px;top:1098px;width:1px;height:160px;background:rgba(255,255,255,0.15);"></div>
<div class="a" style="left:628px;top:1098px;width:1px;height:160px;background:rgba(255,255,255,0.15);"></div>
<div class="a" style="left:928px;top:1098px;width:1px;height:160px;background:rgba(255,255,255,0.15);"></div>
<div class="a" style="left:1228px;top:1098px;width:1px;height:160px;background:rgba(255,255,255,0.15);"></div>
<div class="a" style="left:1528px;top:1098px;width:1px;height:160px;background:rgba(255,255,255,0.15);"></div>
<div class="a" style="left:1828px;top:1098px;width:1px;height:160px;background:rgba(255,255,255,0.15);"></div>
<div class="a" style="left:2127px;top:1098px;width:1px;height:160px;background:rgba(255,255,255,0.15);"></div>
<div class="a" style="left:176px;top:1161.5px;width:32px;height:32px;background:#FFFFFF;border-radius:8px;"></div>
<svg class="a" style="left:224px;top:1161.5px;" width="36" height="32" viewBox="0 0 36 32"><rect x="3.1" y="3.4" width="29.7" height="25.8" rx="4.5" fill="none" stroke="#D7CCDC" stroke-width="2.0"/><polyline points="7.2,10.7 18,19.3 28.8,10.7" fill="none" stroke="#D7CCDC" stroke-width="2.0" stroke-linecap="round" stroke-linejoin="round"/><line x1="7.3" y1="22.8" x2="10.6" y2="19.5" stroke="#D7CCDC" stroke-width="2.0" stroke-linecap="round"/><line x1="25.4" y1="19.5" x2="28.7" y2="22.8" stroke="#D7CCDC" stroke-width="2.0" stroke-linecap="round"/></svg>
<div class="t" style="left:340px;top:1142.95px;font-size:29px;line-height:29px;color:#07194A;font-weight:400;letter-spacing:0.45px;">Delay of</div>
<div class="t" style="left:340px;top:1184.95px;font-size:29px;line-height:29px;color:#07194A;font-weight:400;letter-spacing:0.45px;">notifications</div>
<div class="t" style="left:660px;top:1121.95px;font-size:29px;line-height:29px;color:#07194A;font-weight:400;letter-spacing:0.45px;">KANBAN -</div>
<div class="t" style="left:660px;top:1163.95px;font-size:29px;line-height:29px;color:#07194A;font-weight:400;letter-spacing:0.45px;">software</div>
<div class="t" style="left:660px;top:1205.95px;font-size:29px;line-height:29px;color:#07194A;font-weight:400;letter-spacing:0.45px;">development</div>
<svg class="a" style="left:960px;top:1145.5px;" width="64" height="64" viewBox="0 0 64 64"><defs><filter id="blblue1098" x="-20%" y="-20%" width="140%" height="140%"><feGaussianBlur stdDeviation="1.1"/></filter><clipPath id="cpblue1098"><circle cx="32" cy="32" r="32"/></clipPath></defs><g clip-path="url(#cpblue1098)"><g filter="url(#blblue1098)"><rect x="-8" y="-8" width="80" height="80" fill="#A9CCF0"/><path d="M2 66 C4 56 10 48 19 44.5 L24 39 L33 51 L40 40.5 C48 43 55 49 60 57 L62 66 Z" fill="#8ED2E8"/><path d="M2 66 C4 56 10 48 19 44.5 L24 39 L30 47 C22 52 14 58 10 66 Z" fill="#3EADD3"/><path d="M24 32 L40 32 L40 40.5 L33 51 L24 39 Z" fill="#D8AE98"/><ellipse cx="32" cy="20.5" rx="11.5" ry="16" fill="#B98470"/><ellipse cx="36" cy="21" rx="7" ry="13" fill="#E2BCA8" opacity="0.55"/><path d="M20.5 24 C19.5 10 24.5 4.5 31.5 4.5 C38.5 4.5 43.5 9 44 18 L41.5 12 C37.5 8 27.5 8 23.5 13 Z" fill="#4A3A33"/><path d="M20.5 18 L23.5 16 L23.5 30 L20.5 28 Z" fill="#4A3A33" opacity="0.6"/></g></g></svg>
<div class="t" style="left:1260px;top:1163.95px;font-size:29px;line-height:29px;color:#07194A;font-weight:400;letter-spacing:0.4px;">In progress</div>
<div class="t" style="right:463.5px;top:1163.95px;font-size:29px;line-height:29px;color:#07194A;font-weight:400;letter-spacing:0.5px;">18.00 h</div>
<div class="t" style="right:163.5px;top:1163.95px;font-size:29px;line-height:29px;color:#07194A;font-weight:400;letter-spacing:0.5px;">2.50 h</div>
<div class="a" style="left:128px;top:1258px;width:2304px;height:160px;background:#FFF0EE;"></div>
<div class="a" style="left:128px;top:1417px;width:2304px;height:1px;background:rgba(255,255,255,0.4);"></div>
<div class="a" style="left:308px;top:1258px;width:1px;height:160px;background:rgba(255,255,255,0.15);"></div>
<div class="a" style="left:628px;top:1258px;width:1px;height:160px;background:rgba(255,255,255,0.15);"></div>
<div class="a" style="left:928px;top:1258px;width:1px;height:160px;background:rgba(255,255,255,0.15);"></div>
<div class="a" style="left:1228px;top:1258px;width:1px;height:160px;background:rgba(255,255,255,0.15);"></div>
<div class="a" style="left:1528px;top:1258px;width:1px;height:160px;background:rgba(255,255,255,0.15);"></div>
<div class="a" style="left:1828px;top:1258px;width:1px;height:160px;background:rgba(255,255,255,0.15);"></div>
<div class="a" style="left:2127px;top:1258px;width:1px;height:160px;background:rgba(255,255,255,0.15);"></div>
<div class="a" style="left:176px;top:1321.5px;width:32px;height:32px;background:#FFFFFF;border-radius:8px;"></div>
<svg class="a" style="left:224px;top:1321.5px;" width="36" height="32" viewBox="0 0 36 32"><rect x="3.1" y="3.4" width="29.7" height="25.8" rx="4.5" fill="none" stroke="#F2115E" stroke-width="2.2"/><polyline points="7.2,10.7 18,19.3 28.8,10.7" fill="none" stroke="#F2115E" stroke-width="2.2" stroke-linecap="round" stroke-linejoin="round"/><line x1="7.3" y1="22.8" x2="10.6" y2="19.5" stroke="#F2115E" stroke-width="2.2" stroke-linecap="round"/><line x1="25.4" y1="19.5" x2="28.7" y2="22.8" stroke="#F2115E" stroke-width="2.2" stroke-linecap="round"/></svg>
<div class="t" style="left:340px;top:1302.95px;font-size:29px;line-height:29px;color:#07194A;font-weight:400;letter-spacing:0.45px;">Full text search</div>
<div class="t" style="left:340px;top:1344.95px;font-size:29px;line-height:29px;color:#07194A;font-weight:400;letter-spacing:0.45px;">optimization</div>
<div class="t" style="left:660px;top:1281.95px;font-size:29px;line-height:29px;color:#07194A;font-weight:400;letter-spacing:0.45px;">KANBAN -</div>
<div class="t" style="left:660px;top:1323.95px;font-size:29px;line-height:29px;color:#07194A;font-weight:400;letter-spacing:0.45px;">software</div>
<div class="t" style="left:660px;top:1365.95px;font-size:29px;line-height:29px;color:#07194A;font-weight:400;letter-spacing:0.45px;">development</div>
<div class="t" style="left:1260px;top:1323.95px;font-size:29px;line-height:29px;color:#07194A;font-weight:400;letter-spacing:0.4px;">New</div>
<div class="t" style="left:1079.5px;width:1200px;text-align:center;top:1323.95px;font-size:29px;line-height:29px;color:#07194A;font-weight:400;letter-spacing:3.4px;">---</div>
<div class="t" style="right:463.5px;top:1323.95px;font-size:29px;line-height:29px;color:#07194A;font-weight:400;letter-spacing:0.5px;">15.00 h</div>
<div class="t" style="right:163.5px;top:1323.95px;font-size:29px;line-height:29px;color:#07194A;font-weight:400;letter-spacing:0.5px;">2.50 h</div>
<div class="a" style="left:128px;top:1418px;width:2304px;height:21px;background:#FFF0EE;"></div>
<div class="a" style="left:308px;top:1418px;width:1px;height:21px;background:rgba(255,255,255,0.15);"></div>
<div class="a" style="left:628px;top:1418px;width:1px;height:21px;background:rgba(255,255,255,0.15);"></div>
<div class="a" style="left:928px;top:1418px;width:1px;height:21px;background:rgba(255,255,255,0.15);"></div>
<div class="a" style="left:1228px;top:1418px;width:1px;height:21px;background:rgba(255,255,255,0.15);"></div>
<div class="a" style="left:1528px;top:1418px;width:1px;height:21px;background:rgba(255,255,255,0.15);"></div>
<div class="a" style="left:1828px;top:1418px;width:1px;height:21px;background:rgba(255,255,255,0.15);"></div>
<div class="a" style="left:2127px;top:1418px;width:1px;height:21px;background:rgba(255,255,255,0.15);"></div>
<div class="a" style="left:2398px;top:112px;width:34px;height:1327px;background:linear-gradient(to right, rgba(40,40,60,0) 0%, rgba(40,40,60,0.015) 45%, rgba(40,40,60,0.04) 80%, rgba(40,40,60,0.08) 100%);"></div>
<div class="a" style="left:2432px;top:112px;width:2px;height:1327px;background:#E6ECF6;"></div>
<div class="a" style="left:128px;top:112px;width:2432px;height:16px;background:linear-gradient(to bottom, rgba(20,20,30,0.075), rgba(20,20,30,0.02) 50%, rgba(20,20,30,0));"></div>
<div class="a" style="left:128px;top:112px;width:30px;height:1327px;background:linear-gradient(to right, rgba(20,20,30,0.055), rgba(20,20,30,0.015) 40%, rgba(20,20,30,0));"></div>
<div class="a" style="left:0px;top:112px;width:127px;height:2px;background:rgba(20,20,30,0.07);"></div>
<div class="a" style="left:128px;top:342px;width:5px;height:159px;background:linear-gradient(to right, #E8044E, #F3175F);"></div>
<div class="a" style="left:128px;top:500px;width:5px;height:1px;background:rgba(255,255,255,0.3);"></div>
<div class="a" style="left:128px;top:501px;width:5px;height:160px;background:linear-gradient(to right, #E8044E, #F3175F);"></div>
<div class="a" style="left:128px;top:660px;width:5px;height:1px;background:rgba(255,255,255,0.3);"></div>
<div class="a" style="left:128px;top:661px;width:5px;height:117px;background:linear-gradient(to right, #E8044E, #F3175F);"></div>
<div class="a" style="left:128px;top:777px;width:5px;height:1px;background:rgba(255,255,255,0.3);"></div>
<div class="a" style="left:128px;top:778px;width:5px;height:160px;background:linear-gradient(to right, #E8044E, #F3175F);"></div>
<div class="a" style="left:128px;top:937px;width:5px;height:1px;background:rgba(255,255,255,0.3);"></div>
<div class="a" style="left:128px;top:938px;width:5px;height:160px;background:linear-gradient(to right, #E86A30, #F27C44);"></div>
<div class="a" style="left:128px;top:1097px;width:5px;height:1px;background:rgba(255,255,255,0.3);"></div>
<div class="a" style="left:128px;top:1098px;width:5px;height:160px;background:linear-gradient(to right, #E86A30, #F27C44);"></div>
<div class="a" style="left:128px;top:1257px;width:5px;height:1px;background:rgba(255,255,255,0.3);"></div>
<div class="a" style="left:128px;top:1258px;width:5px;height:160px;background:linear-gradient(to right, #E86A30, #F27C44);"></div>
<div class="a" style="left:128px;top:1417px;width:5px;height:1px;background:rgba(255,255,255,0.3);"></div>
<div class="a" style="left:128px;top:1418px;width:5px;height:21px;background:linear-gradient(to right, #E86A30, #F27C44);"></div>
</body></html>
